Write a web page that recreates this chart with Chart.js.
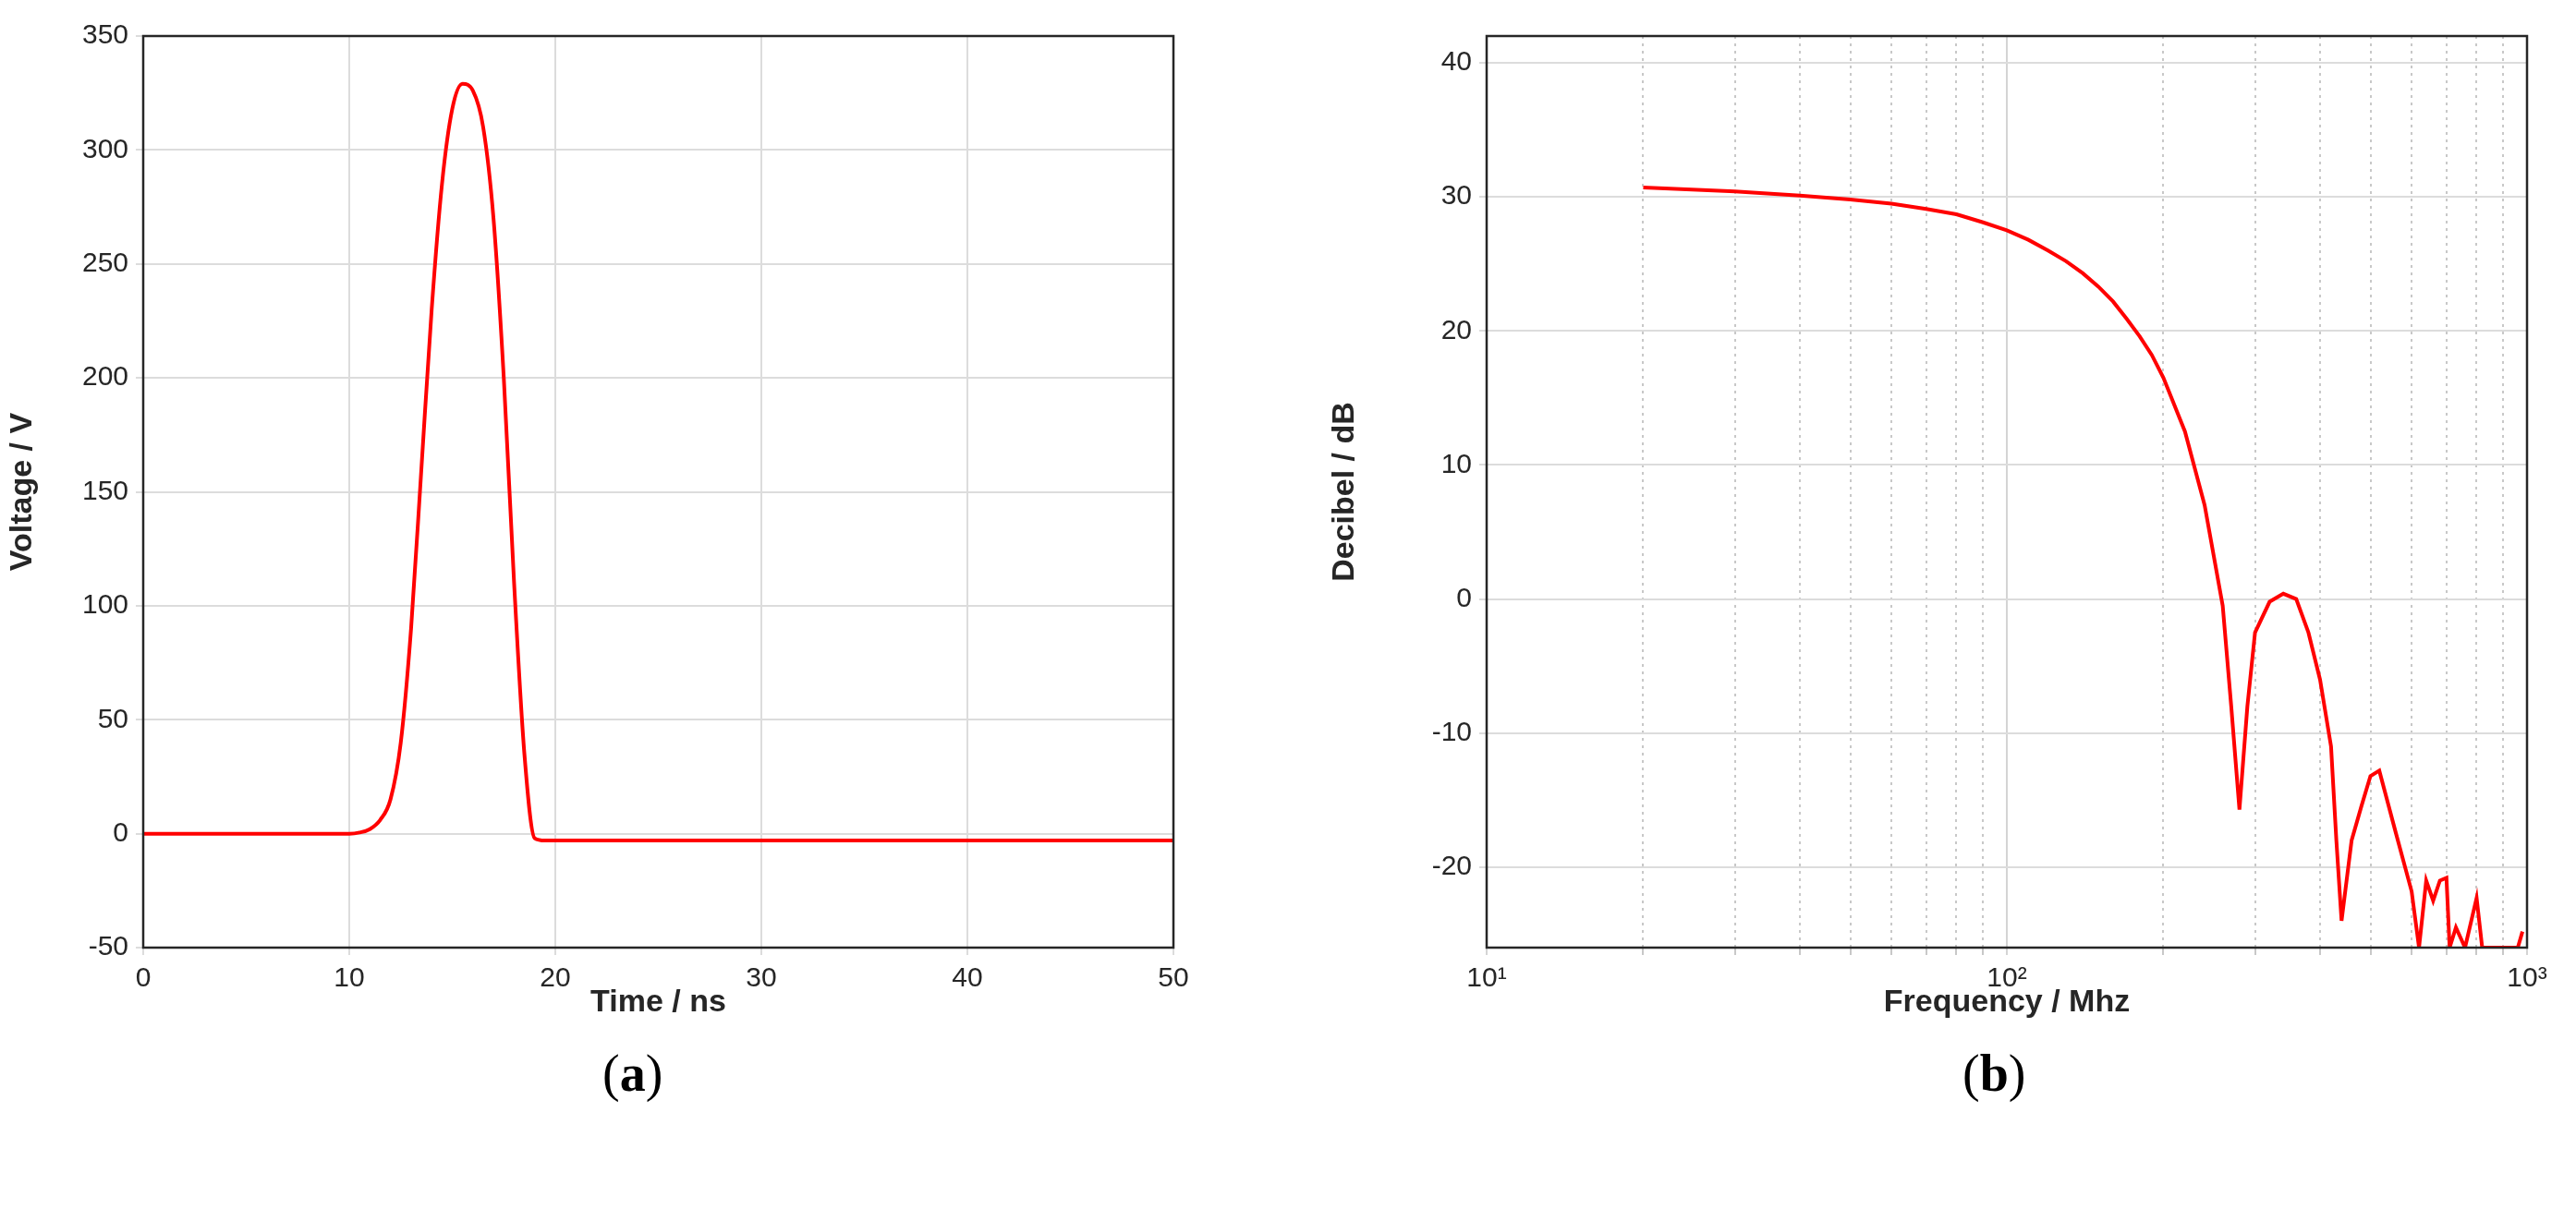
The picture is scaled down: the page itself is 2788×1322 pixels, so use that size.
<!DOCTYPE html>
<html><head><meta charset="utf-8">
<script src="https://cdn.jsdelivr.net/npm/chart.js@4"></script>
<style>
body{margin:0;background:#fff;width:2788px;height:1322px;position:relative;overflow:hidden}
.c{position:absolute;top:0}
.cap{position:absolute;top:1130px;font-family:"Liberation Serif",serif;font-size:56px;color:#000}
</style></head><body>
<div class="c" style="left:0;width:1300px;height:1110px"><canvas id="a"></canvas></div>
<div class="c" style="left:1431px;width:1334px;height:1110px"><canvas id="b"></canvas></div>
<div class="cap" style="left:652px">(<b>a</b>)</div>
<div class="cap" style="left:2124px">(<b>b</b>)</div>
<script>
const timeNs=[0,2,4,6,8,10,10.5,11,11.5,12,12.5,13,13.5,14,14.5,15,15.5,16,16.5,17,17.5,18,18.5,19,19.5,20,25,30,40,50];
const voltage=[0,0,0,0,0,0,0.5,2,6,15,40,90,160,230,285,318,329,326,310,270,200,110,35,-2,-3,-3,-3,-3,-3,-3];
const freqMHz=[20,30,40,50,60,70,80,90,100,110,120,130,140,150,160,170,180,190,200,220,240,260,270,280,290,300,320,340,360,380,400,420,430,440,460,480,500,520,560,600,620,640,660,680,700,710,730,760,800,820,860,900,960,980];
const decibel=[30.7,30.4,30.1,29.8,29.5,29.1,28.7,28.1,27.5,26.8,26,25.2,24.3,23.3,22.2,20.9,19.6,18.2,16.5,12.5,7,-0.5,-8,-15.7,-8,-2.5,-0.2,0.4,0,-2.5,-6,-11,-18,-24,-18,-15.5,-13.2,-12.8,-17.5,-21.8,-26,-21,-22.5,-21,-20.8,-26,-24.5,-26,-22.3,-26,-26,-26,-26,-24.8];
const leftTicks=[-50,0,50,100,150,200,250,300,350];
const rightTicks=[-20,-10,0,10,20,30,40];
const logLabels={10:'10¹',100:'10²',1000:'10³'};

const F='"Liberation Sans", Arial, sans-serif';
const frame={id:'frame',afterDraw(c){const a=c.chartArea,x=c.ctx;x.save();x.strokeStyle='#262626';x.lineWidth=2.5;x.strokeRect(a.left,a.top,a.right-a.left,a.bottom-a.top);x.restore();}};
const tickFont={family:F,size:30};const titleFont={family:F,size:34,weight:'bold'};
Chart.defaults.color='#262626';

new Chart(document.getElementById('a'),{type:'line',
data:{datasets:[{data:timeNs.map((t,i)=>({x:t,y:voltage[i]})),borderColor:'#ff0000',borderWidth:4,pointRadius:0,tension:0.4,cubicInterpolationMode:'monotone'}]},
options:{responsive:true,maintainAspectRatio:false,animation:false,layout:{padding:{top:39,right:30}},
plugins:{legend:{display:false},tooltip:{enabled:false}},
scales:{
x:{type:'linear',min:0,max:50,ticks:{stepSize:10,font:tickFont,padding:8},grid:{color:'#dcdcdc',lineWidth:2,tickLength:8},
title:{display:true,text:'Time / ns',font:titleFont,padding:{top:4}},afterFit(s){s.height=84;}},
y:{min:-50,max:350,afterBuildTicks(s){s.ticks=leftTicks.map(v=>({value:v}));},ticks:{font:tickFont,padding:8},grid:{color:'#dcdcdc',lineWidth:2,tickLength:8},
title:{display:true,text:'Voltage / V',font:titleFont,padding:{bottom:4}},afterFit(s){s.width=155;}}}},
plugins:[frame]});

new Chart(document.getElementById('b'),{type:'line',
data:{datasets:[{data:freqMHz.map((f,i)=>({x:f,y:decibel[i]})),borderColor:'#ff0000',borderWidth:4,pointRadius:0,tension:0}]},
options:{responsive:true,maintainAspectRatio:false,animation:false,layout:{padding:{top:39,right:30}},
plugins:{legend:{display:false},tooltip:{enabled:false}},
scales:{
x:{type:'logarithmic',min:10,max:1000,
afterBuildTicks(s){const t=[];for(let e=1;e<3;e++){for(let m=1;m<10;m++)t.push({value:m*Math.pow(10,e)});}t.push({value:1000});s.ticks=t;},
ticks:{font:tickFont,padding:8,autoSkip:false,maxRotation:0,callback:v=>logLabels[v]||''},
grid:{color:c=>logLabels[c.tick&&c.tick.value]?'#d4d4d4':'#c8c8c8',lineWidth:2,tickLength:8},
border:{dash:c=>logLabels[c.tick&&c.tick.value]?[]:[3,5]},
title:{display:true,text:'Frequency / Mhz',font:titleFont,padding:{top:4}},afterFit(s){s.height=84;}},
y:{min:-26,max:42,afterBuildTicks(s){s.ticks=rightTicks.map(v=>({value:v}));},ticks:{font:tickFont,padding:8},grid:{color:'#dcdcdc',lineWidth:2,tickLength:8},
title:{display:true,text:'Decibel / dB',font:titleFont,padding:{bottom:4}},afterFit(s){s.width=178;}}}},
plugins:[frame]});
</script></body></html>
